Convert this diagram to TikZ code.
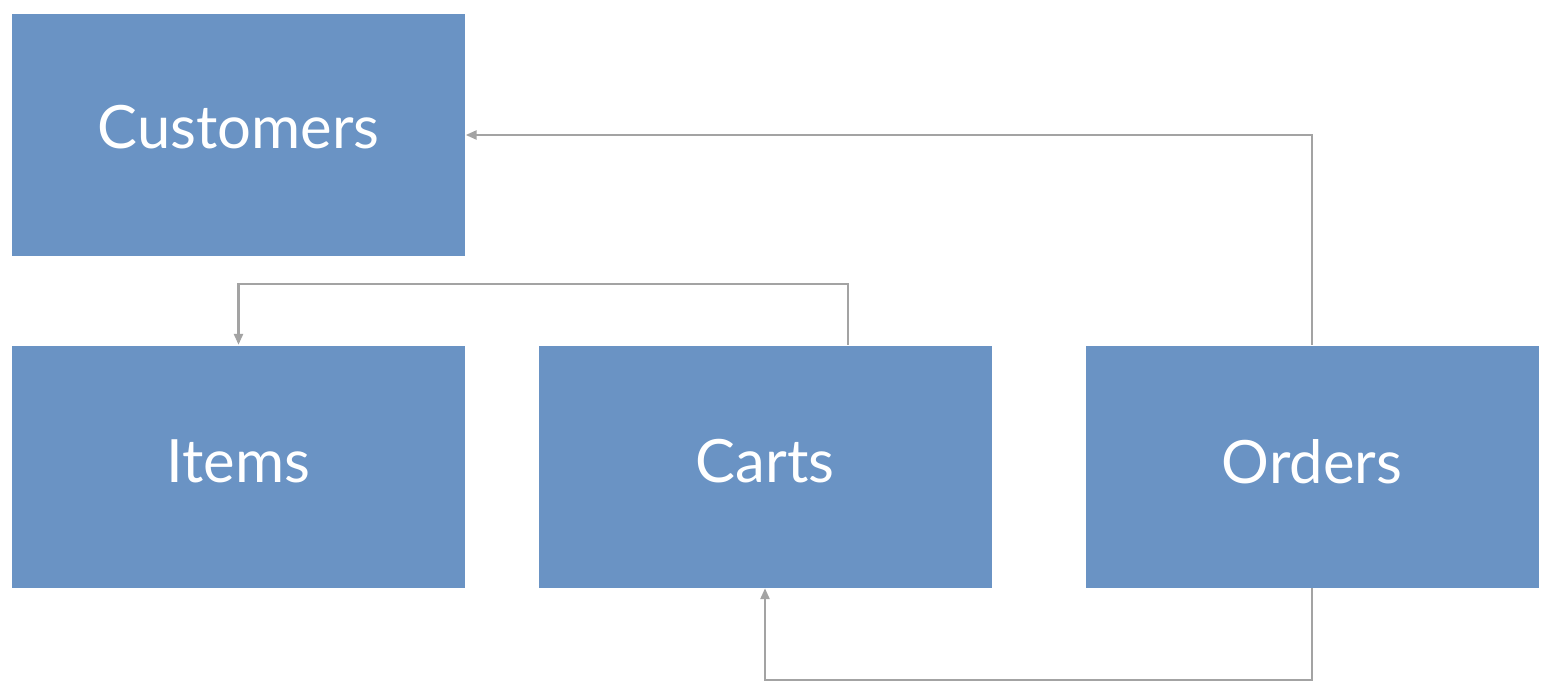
\documentclass[tikz,border=0pt]{standalone}
\usepackage{fontspec}
\setmainfont{Lato}
\usepackage{tikz}
\usetikzlibrary{arrows.meta,calc,positioning}
\definecolor{boxblue}{HTML}{6A93C4}
\definecolor{linegray}{HTML}{A3A3A3}
\tikzset{
tbl/.style={fill=boxblue,draw=none,minimum width=4.53cm,minimum height=2.42cm,inner sep=0pt,text=white,font=\fontsize{17}{20}\selectfont},
lbl/.style={text=white,font=\fontsize{17}{20}\selectfont},
link/.style={draw=linegray,line width=0.7pt,-{Triangle[length=0.11cm,width=0.09cm]}}
}

\begin{document}
\begin{tikzpicture}
\useasboundingbox[fill=white] (0,0) rectangle (15.49,6.86);
\node[tbl] (customers) at (2.385,5.51) {};
\node[tbl] (items) at (2.385,2.195) {};
\node[tbl] (carts) at (7.65,2.195) {};
\node[tbl] (orders) at (13.12,2.195) {};
% names sit a little above the middle
\node[lbl] (customerslbl) at ([yshift=0.08cm]customers.center) {Customers};
\node[lbl] (itemslbl) at ([yshift=0.05cm]items.center) {Items};
\node[lbl] (cartslbl) at ([yshift=0.05cm]carts.center) {Carts};
\node[lbl] (orderslbl) at ([yshift=0.05cm]orders.center) {Orders};
\draw[link] (orders.north) |- (customers.east);
\draw[link] ([xshift=0.83cm]carts.north) -- ++(0,0.61) -| (items.north);
\draw[link] (orders.south) -- ++(0,-0.92) -| (carts.south);
\end{tikzpicture}
\end{document}
